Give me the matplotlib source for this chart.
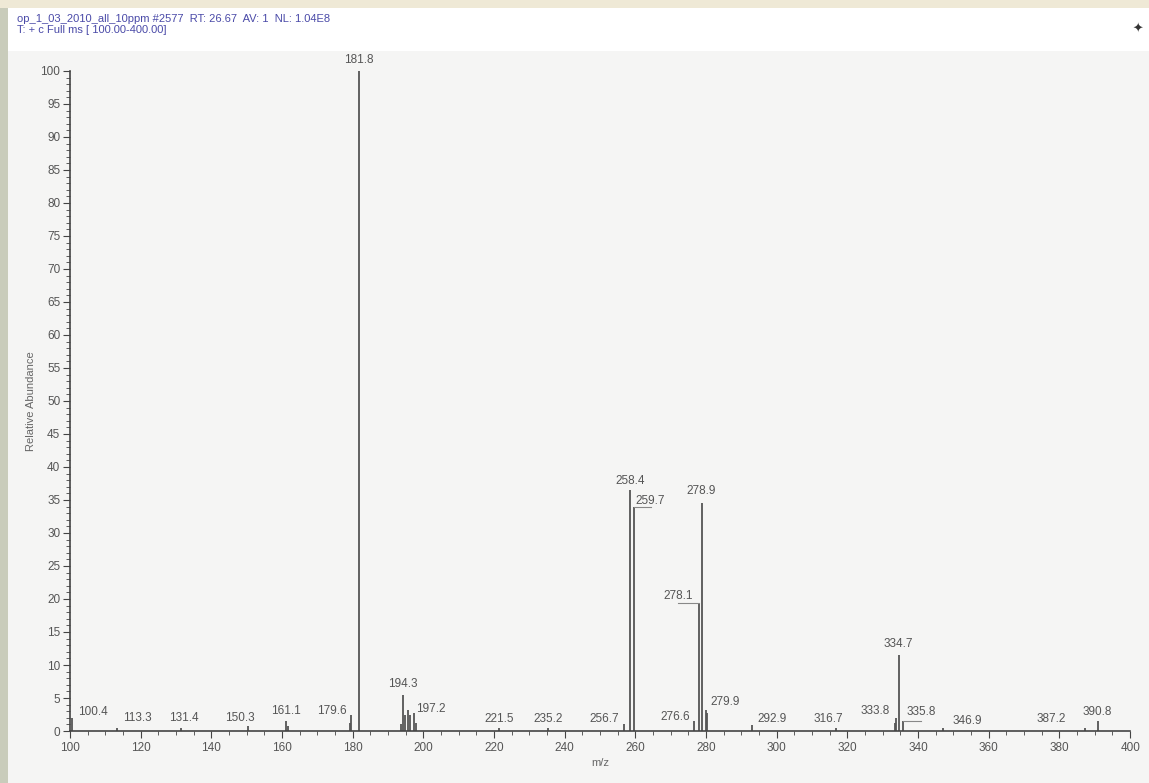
import matplotlib
matplotlib.use("Agg")
import matplotlib.pyplot as plt
from matplotlib.patches import Rectangle
from matplotlib.ticker import MultipleLocator

plt.rcParams["font.family"] = ["Liberation Sans", "DejaVu Sans"]

# spectrum peaks (m/z, relative abundance)
mz = [100.4, 113.3, 131.4, 150.3, 161.1, 161.8, 179.2, 179.6, 181.8,
      193.6, 194.3, 194.9, 195.6, 196.3, 197.2, 198.0,
      221.5, 235.2, 256.7, 258.4, 259.7,
      276.6, 278.1, 278.9, 279.9, 280.3,
      292.9, 316.7, 333.4, 333.8, 334.7, 335.8, 346.9, 387.2, 390.8]
abundance = [2.0, 0.5, 0.4, 0.8, 1.5, 0.8, 1.2, 2.5, 100.0,
             1.0, 5.4, 2.5, 3.2, 2.4, 2.8, 1.2,
             0.5, 0.5, 1.0, 36.5, 34.0,
             1.5, 19.4, 34.5, 3.2, 2.8,
             0.9, 0.5, 1.2, 2.0, 11.5, 1.5, 0.5, 0.5, 1.5]

# labelled peaks
label_mz = [100.4, 113.3, 131.4, 150.3, 161.1, 179.6, 181.8, 194.3, 197.2,
            221.5, 235.2, 256.7, 258.4, 259.7, 276.6, 278.1, 278.9, 279.9,
            292.9, 316.7, 333.8, 334.7, 335.8, 346.9, 387.2, 390.8]
label_abund = [2.0, 0.5, 0.4, 0.8, 1.5, 2.5, 100.0, 5.4, 2.8,
               0.5, 0.5, 1.0, 36.5, 34.0, 1.5, 19.4, 34.5, 3.2,
               0.9, 0.5, 2.0, 11.5, 1.5, 0.5, 0.5, 1.5]
# label placement: (dx in m/z, baseline height in abundance units)
label_pos = {100.4: (6.0, 2.0), 113.3: (5.7, 1.0), 131.4: (0.7, 1.0),
             150.3: (-2.3, 1.0), 161.1: (0.0, 2.1), 179.6: (-5.4, 2.1),
             181.8: (0.0, 100.7), 194.3: (-0.2, 6.2), 197.2: (5.0, 2.4),
             221.5: (0.0, 0.9), 235.2: (0.0, 0.9), 256.7: (-5.4, 0.9),
             258.4: (0.0, 37.0), 259.7: (4.6, 34.0), 276.6: (-5.2, 1.2),
             278.1: (-6.0, 19.5), 278.9: (-0.4, 35.5), 279.9: (5.6, 3.5),
             292.9: (5.7, 0.9), 316.7: (-2.0, 0.9), 333.8: (-6.0, 2.1),
             334.7: (-0.4, 12.3), 335.8: (5.0, 2.0), 346.9: (7.0, 0.6),
             387.2: (-9.6, 0.9), 390.8: (0.0, 2.0)}
leaders = [259.7, 278.1, 335.8]

header1 = "op_1_03_2010_all_10ppm #2577  RT: 26.67  AV: 1  NL: 1.04E8"
header2 = "T: + c Full ms [ 100.00-400.00]"

fig = plt.figure(figsize=(11.49, 7.83), dpi=100)
fig.patch.set_facecolor("#f5f5f4")
# window chrome
fig.patches.append(Rectangle((0, 0.935), 1, 0.065, transform=fig.transFigure,
                             facecolor="white", edgecolor="none", zorder=0))
fig.patches.append(Rectangle((0, 0.99), 1, 0.01, transform=fig.transFigure,
                             facecolor="#efe9d6", edgecolor="none", zorder=0))
fig.patches.append(Rectangle((0, 0), 0.007, 0.99, transform=fig.transFigure,
                             facecolor="#c9ccbb", edgecolor="none", zorder=0))

ax = fig.add_axes([0.061, 0.0664, 0.9226, 0.843])
ax.set_facecolor("none")
ax.vlines(mz, 0, abundance, color="#555555", linewidth=1.3)
ax.set_xlim(100, 400)
ax.set_ylim(0, 100)

for spine in ["top", "right"]:
    ax.spines[spine].set_visible(False)
for spine in ["left", "bottom"]:
    ax.spines[spine].set_color("#444444")
    ax.spines[spine].set_linewidth(1.2)

ax.xaxis.set_major_locator(MultipleLocator(20))
ax.xaxis.set_minor_locator(MultipleLocator(5))
ax.yaxis.set_major_locator(MultipleLocator(5))
ax.yaxis.set_minor_locator(MultipleLocator(1))
ax.tick_params(axis="both", which="major", direction="out", length=5,
               color="#444444", labelsize=8.5, labelcolor="#555555")
ax.tick_params(axis="both", which="minor", direction="out", length=3, color="#444444")
ax.tick_params(axis="x", pad=3)
ax.tick_params(axis="y", pad=2)

for m, a in zip(label_mz, label_abund):
    dx, ty = label_pos.get(m, (0, a + 0.6))
    ax.text(m + dx, ty, f"{m:.1f}", ha="center", va="bottom",
            fontsize=8.5, color="#555555")
    if m in leaders:
        ax.plot([m + dx, m], [a, a], color="#888888", linewidth=0.8)

ax.set_xlabel("m/z", fontsize=8, color="#666666", labelpad=3)
ax.set_ylabel("Relative Abundance", fontsize=8, color="#666666", labelpad=3)

fig.text(0.015, 0.976, header1, fontsize=8, color="#4a4aa8", va="center")
fig.text(0.015, 0.962, header2, fontsize=8, color="#4a4aa8", va="center")
fig.text(0.995, 0.962, "\u2726", fontsize=9, color="#333333", ha="right", va="center")

fig.savefig("out.png", dpi=100, facecolor=fig.get_facecolor())
